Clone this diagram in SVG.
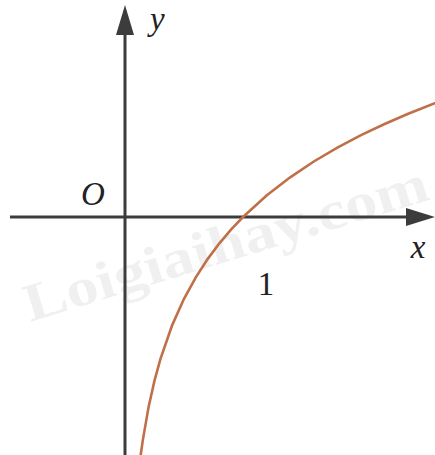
<svg xmlns="http://www.w3.org/2000/svg" width="435" height="455" viewBox="0 0 435 455">
<style>
.axis{stroke:#3c3c3c;stroke-width:3;fill:none}
.curve{stroke:#c07048;stroke-width:2.6;fill:none;stroke-linecap:round}
.lbl{font-family:"Liberation Serif",serif;font-size:33px;fill:#222}
.it{font-style:italic}
.wm{font-family:"Liberation Serif",serif;font-weight:bold;font-size:54px;fill:#000;fill-opacity:0.06}
</style>
<rect width="435" height="455" fill="#fff"/>
<text class="wm" x="30" y="322" transform="rotate(-17 30 322)" textLength="420" lengthAdjust="spacingAndGlyphs">Loigiaihay.com</text>
<g id="connectors">
<g id="x-axis">
<line class="axis" x1="10" y1="217" x2="410" y2="217"/>
<polygon points="435,217 406,208 406,226" fill="#3c3c3c"/>
</g>
<g id="y-axis">
<line class="axis" x1="125" y1="455" x2="125" y2="32"/>
<polygon points="125,5 116,35 134,35" fill="#3c3c3c"/>
</g>
<polyline id="curve" class="curve" points="140.7,455 142.7,440.9 148.6,406.9 154.5,380.6 160.4,359.1 172.2,325.1 184,298.8 195.8,277.3 207.6,259.1 219.4,243.3 231.2,229.4 243,217 266.6,195.5 290.2,177.3 313.8,161.5 337.4,147.6 361,135.2 384.6,124 408.2,113.7 443.6,99.8"/>
</g>
<g id="label-y"><text class="lbl it" x="150" y="30">y</text></g>
<g id="label-O"><text class="lbl it" x="81" y="205">O</text></g>
<g id="label-x"><text class="lbl it" x="418" y="258" text-anchor="middle">x</text></g>
<g id="label-1"><text class="lbl" x="266" y="295" text-anchor="middle">1</text></g>
</svg>
